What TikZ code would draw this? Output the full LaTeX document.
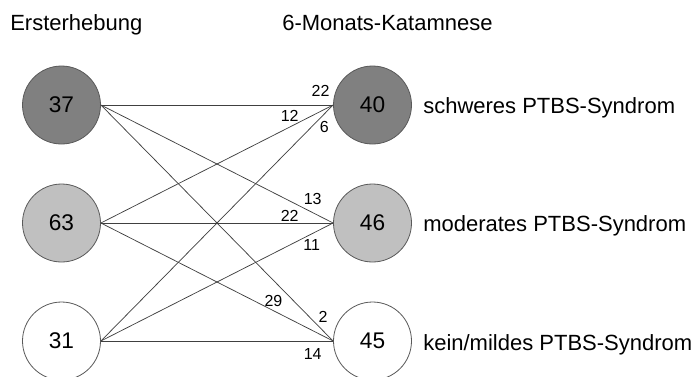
\documentclass[tikz,border=0pt]{standalone}
\usepackage{fontspec}
\setmainfont{Liberation Sans}
\definecolor{darkfill}{HTML}{808080}
\definecolor{lightfill}{HTML}{C0C0C0}

\begin{document}
\begin{tikzpicture}[x=0.75pt, y=-0.75pt,
  state/.style={circle, draw=black!65, line width=0.6pt, minimum size=58.5pt, inner sep=0pt, font=\fontsize{17}{17}\selectfont},
  txt/.style={anchor=base west, inner sep=0pt, font=\fontsize{16.5}{16.5}\selectfont},
  flow/.style={draw=black!75, line width=0.55pt},
  num/.style={inner sep=1pt, font=\fontsize{12}{12}\selectfont}]
 \useasboundingbox (0,0) rectangle (691,376);

 \node[txt] (t1) at (10,30) {Ersterhebung};
 \node[txt] (t2) at (282,30) {6-Monats-Katamnese};

 % Ersterhebung
 \node[state, fill=darkfill] (e1) at (61.5,105) {37};
 \node[state, fill=lightfill] (e2) at (61.5,223) {63};
 \node[state, fill=white] (e3) at (61.5,341) {31};

 % Katamnese
 \node[state, fill=darkfill] (k1) at (372.5,105) {40};
 \node[state, fill=lightfill] (k2) at (372.5,223) {46};
 \node[state, fill=white] (k3) at (372.5,341) {45};

 \node[txt] (l1) at (423,113) {schweres PTBS-Syndrom};
 \node[txt] (l2) at (423,231) {moderates PTBS-Syndrom};
 \node[txt] (l3) at (423,350) {kein/mildes PTBS-Syndrom};

 \draw[flow] (e1.east) -- node[num, pos=.946, above=5pt] {22} (k1.west);
 \draw[flow] (e2.east) -- node[num, pos=.813, above=3pt] {12} (k1.west);
 \draw[flow] (e3.east) -- node[num, pos=.936, below right] {6} (k1.west);

 \draw[flow] (e1.east) -- node[num, pos=.912, above=5pt] {13} (k2.west);
 \draw[flow] (e2.east) -- node[num, pos=.813, above] {22} (k2.west);
 \draw[flow] (e3.east) -- node[num, pos=.908, below=3pt] {11} (k2.west);

 \draw[flow] (e1.east) -- node[num, pos=.93, above right] {2} (k3.west);
 \draw[flow] (e2.east) -- node[num, pos=.743, above=2pt] {29} (k3.west);
 \draw[flow] (e3.east) -- node[num, pos=.912, below=4.5pt] {14} (k3.west);
\end{tikzpicture}
\end{document}
